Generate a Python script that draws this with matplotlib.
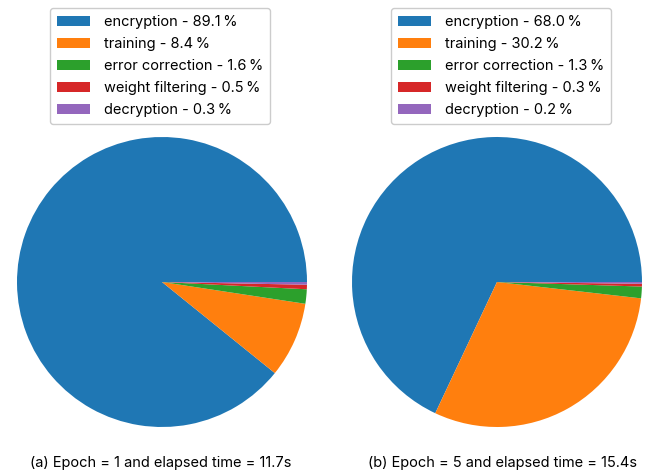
import matplotlib
matplotlib.use("Agg")
import matplotlib.pyplot as plt

plt.rcParams['font.family'] = ['Inter', 'DejaVu Sans']

stages = ["encryption", "training", "error correction", "weight filtering", "decryption"]
shares_epoch1 = [89.1, 8.4, 1.6, 0.5, 0.3]
shares_epoch5 = [68.0, 30.2, 1.3, 0.3, 0.2]
captions = ["(a) Epoch = 1 and elapsed time = 11.7s",
            "(b) Epoch = 5 and elapsed time = 15.4s"]
colors = ["#1f77b4", "#ff7f0e", "#2ca02c", "#d62728", "#9467bd"]

W, H = 651, 474
fig = plt.figure(figsize=(W / 100, H / 100), dpi=100)

centers_x = [162, 497]
legend_x = [160, 501]
caption_x = [161, 503]
center_y = 282
radius = 145

for cx, lx, tx, shares, cap in zip(centers_x, legend_x, caption_x,
                                   [shares_epoch1, shares_epoch5], captions):
    ax = fig.add_axes([(cx - radius) / W, (H - center_y - radius) / H,
                       2 * radius / W, 2 * radius / H])
    wedges, _ = ax.pie(shares, colors=colors, startangle=0, radius=1.0)
    ax.set_xlim(-1, 1)
    ax.set_ylim(-1, 1)
    ax.set_aspect('equal')
    labels = [f"{s} - {v:.1f}\u2009%" for s, v in zip(stages, shares)]
    fig.legend(wedges, labels, loc='upper center',
               bbox_to_anchor=(lx / W, 1.0 - 1 / H), fontsize=10.5,
               frameon=True, fancybox=True, framealpha=1.0,
               edgecolor='#cccccc', handlelength=2.25, handleheight=0.7,
               labelspacing=0.55, borderpad=0.45, handletextpad=0.95)
    fig.text(tx / W, 1 - 463 / H, cap, ha='center', va='center', fontsize=10.5)

fig.savefig("out.png", dpi=100)
